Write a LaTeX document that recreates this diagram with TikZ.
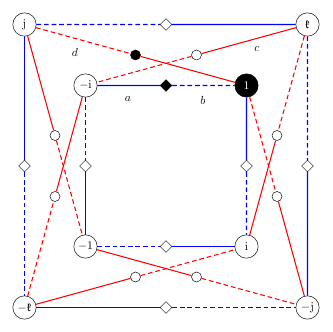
\documentclass[tikz,border=0pt]{standalone}
\usepackage{amssymb}
\usetikzlibrary{shapes.geometric,calc}
\definecolor{sideblue}{RGB}{0,0,255}
\definecolor{diagred}{RGB}{255,0,0}
\tikzset{
  elem/.style={circle,draw,fill=white,minimum size=0.7cm,inner sep=0pt},
  oddmark/.style={diamond,draw,fill=white,minimum size=0.36cm,inner sep=0pt},
  ringmark/.style={circle,draw,fill=white,minimum size=0.3cm,inner sep=0pt},
  bsolid/.style={color=sideblue,line width=0.9pt},
  bdash/.style={bsolid,dash pattern=on 4pt off 2.5pt},
  rsolid/.style={color=diagred,line width=0.9pt},
  rdash/.style={rsolid,dash pattern=on 4pt off 2.5pt}
}

\begin{document}
\begin{tikzpicture}[x=1cm,y=1cm]
  \fill[white] (0,0) rectangle (9.96,9.96);
  % outer square
  \node[elem] (j) at (0.735,9.225){$\mathrm{j}$};
  \node[elem] (k) at (9.225,9.225){$\mathfrak{k}$};
  \node[elem] (mk) at (0.735,0.735){$-\mathfrak{k}$};
  \node[elem] (mj) at (9.225,0.735){$-\mathrm{j}$};
  % inner square
  \node[elem] (mi) at (2.565,7.395){$-\mathrm{i}$};
  \node[elem,fill=black] (one) at (7.395,7.395){\textcolor{white}{$1$}};
  \node[elem] (mone) at (2.565,2.565){$-1$};
  \node[elem] (i) at (7.395,2.565){$\mathrm{i}$};
  % diamonds on the sides
  \node[oddmark] (top) at ($(j)!0.5!(k)$){};
  \node[oddmark] (left) at ($(j)!0.5!(mk)$){};
  \node[oddmark] (right) at ($(k)!0.5!(mj)$){};
  \node[oddmark] (bot) at ($(mk)!0.5!(mj)$){};
  \node[oddmark,fill=black] (itop) at ($(mi)!0.5!(one)$){};
  \node[oddmark] (ileft) at ($(mi)!0.5!(mone)$){};
  \node[oddmark] (iright) at ($(one)!0.5!(i)$){};
  \node[oddmark] (ibot) at ($(mone)!0.5!(i)$){};
  % circles on the diagonals
  \node[ringmark,fill=black] (dd) at ($(j)!0.5!(one)$){};
  \node[ringmark] (dc) at ($(k)!0.5!(mi)$){};
  \node[ringmark] (dl1) at ($(j)!0.5!(mone)$){};
  \node[ringmark] (dl2) at ($(mk)!0.5!(mi)$){};
  \node[ringmark] (dr1) at ($(k)!0.5!(i)$){};
  \node[ringmark] (dr2) at ($(one)!0.5!(mj)$){};
  \node[ringmark] (db1) at ($(mk)!0.5!(i)$){};
  \node[ringmark] (db2) at ($(mone)!0.5!(mj)$){};
  % blue sides, outer
  \draw[bdash] (j) -- (top);
  \draw[bsolid] (top) -- (k);
  \draw[bsolid] (j) -- (left);
  \draw[bdash] (left) -- (mk);
  \draw[bdash] (k) -- (right);
  \draw[bsolid] (right) -- (mj);
  \draw[bsolid] (mk) -- (bot);
  \draw[bdash] (bot) -- (mj);
  % blue sides, inner
  \draw[bsolid] (mi) -- (itop);
  \draw[bdash] (itop) -- (one);
  \draw[bdash] (mi) -- (ileft);
  \draw[bsolid] (ileft) -- (mone);
  \draw[bsolid] (one) -- (iright);
  \draw[bdash] (iright) -- (i);
  \draw[bdash] (mone) -- (ibot);
  \draw[bsolid] (ibot) -- (i);
  % red diagonals
  \draw[rdash] (j) -- (dd);
  \draw[rsolid] (dd) -- (one);
  \draw[rsolid] (k) -- (dc);
  \draw[rdash] (dc) -- (mi);
  \draw[rsolid] (j) -- (dl1);
  \draw[rdash] (dl1) -- (mone);
  \draw[rdash] (mk) -- (dl2);
  \draw[rsolid] (dl2) -- (mi);
  \draw[rdash] (k) -- (dr1);
  \draw[rsolid] (dr1) -- (i);
  \draw[rdash] (one) -- (dr2);
  \draw[rsolid] (dr2) -- (mj);
  \draw[rsolid] (mk) -- (db1);
  \draw[rdash] (db1) -- (i);
  \draw[rsolid] (mone) -- (db2);
  \draw[rdash] (db2) -- (mj);
  % labels
  \node (la) at (3.84,6.99){$a$};
  \node (lb) at (6.09,6.96){$b$};
  \node (lc) at (7.71,8.49){$c$};
  \node (ld) at (2.25,8.40){$d$};
\end{tikzpicture}
\end{document}
